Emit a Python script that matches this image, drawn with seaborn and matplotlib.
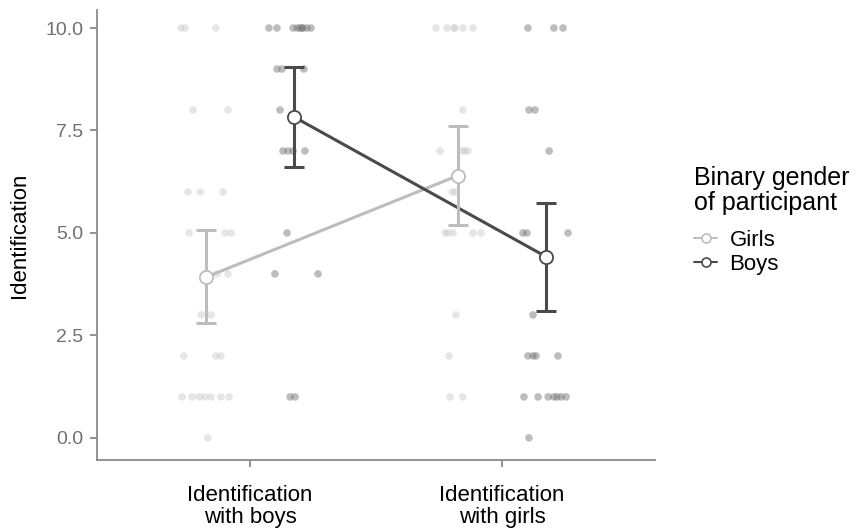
import numpy as np
import pandas as pd
import matplotlib
matplotlib.use("Agg")
import matplotlib.pyplot as plt
import seaborn as sns
from matplotlib.lines import Line2D

# ---------------- data ----------------
conditions = ["Identification\nwith boys", "Identification\nwith girls"]
genders = ["Girls", "Boys"]

# summary (mean and error-bar limits) per gender, per condition
girls_mean = [3.92, 6.40]
girls_low = [2.80, 5.20]
girls_high = [5.07, 7.62]
boys_mean = [7.83, 4.42]
boys_low = [6.60, 3.10]
boys_high = [9.05, 5.73]

# raw responses with their observed horizontal jitter offset (data units)
girls_boys_y = [10, 10, 10, 8, 8, 6, 6, 6, 5, 5, 5, 4, 4, 3, 3, 2, 2, 2,
                1, 1, 1, 1, 1, 1, 1, 0]
girls_boys_j = [-0.274, -0.258, -0.135, -0.226, -0.087, -0.246, -0.198, -0.107,
                -0.242, -0.099, -0.075, -0.131, -0.087, -0.194, -0.155,
                -0.262, -0.135, -0.115, -0.270, -0.230, -0.202, -0.179,
                -0.155, -0.115, -0.083, -0.167]
boys_boys_y = [10, 10, 10, 10, 10, 10, 10, 10, 10, 9, 9, 9, 8, 7, 7, 7, 7,
               5, 4, 4, 1, 1]
boys_boys_j = [0.075, 0.107, 0.171, 0.187, 0.198, 0.206, 0.210, 0.226, 0.242,
               0.107, 0.127, 0.214, 0.119, 0.131, 0.151, 0.171, 0.218,
               0.147, 0.099, 0.270, 0.159, 0.179]
girls_girls_y = [10, 10, 10, 10, 10, 10, 8, 7, 7, 7, 7, 6, 6, 5, 5, 5, 5, 5,
                 3, 2, 1, 1]
girls_girls_j = [-0.262, -0.218, -0.190, -0.187, -0.155, -0.115, -0.155,
                 -0.246, -0.159, -0.147, -0.135, -0.198, -0.187, -0.226,
                 -0.214, -0.194, -0.115, -0.083, -0.183, -0.210, -0.206,
                 -0.155]
boys_girls_y = [10, 10, 10, 8, 8, 7, 5, 5, 5, 3, 2, 2, 2, 2, 1, 1, 1, 1, 1,
                1, 1, 0]
boys_girls_j = [0.103, 0.206, 0.242, 0.107, 0.131, 0.187, 0.083, 0.099, 0.262,
                0.123, 0.103, 0.123, 0.135, 0.222, 0.087, 0.143, 0.183,
                0.206, 0.218, 0.234, 0.254, 0.107]

y_ticks = [0.0, 2.5, 5.0, 7.5, 10.0]

# ---------------- build tables ----------------
rows = []
for cond_i, gender, ys, js in [
    (0, "Girls", girls_boys_y, girls_boys_j),
    (0, "Boys", boys_boys_y, boys_boys_j),
    (1, "Girls", girls_girls_y, girls_girls_j),
    (1, "Boys", boys_girls_y, boys_girls_j),
]:
    for y, j in zip(ys, js):
        rows.append({"x": cond_i + j, "y": y, "gender": gender})
pts = pd.DataFrame(rows)

summ = pd.DataFrame({
    "cond": [0, 1, 0, 1],
    "gender": ["Girls", "Girls", "Boys", "Boys"],
    "mean": girls_mean + boys_mean,
    "low": girls_low + boys_low,
    "high": girls_high + boys_high,
})
dodge = {"Girls": -0.175, "Boys": 0.175}
summ["x"] = summ["cond"] + summ["gender"].map(dodge)

line_col = {"Girls": "#bdbdbd", "Boys": "#4a4a4a"}
pt_col = {"Girls": "#c8c8c8", "Boys": "#6e6e6e"}

# ---------------- plot ----------------
sns.set_style("white")
plt.rcParams["font.family"] = ["Liberation Sans", "DejaVu Sans"]

fig = plt.figure(figsize=(8.57, 5.30), dpi=100)
ax = fig.add_axes([97 / 857, 1 - 460 / 530, (655 - 97) / 857, (460 - 10) / 530])

sns.scatterplot(data=pts, x="x", y="y", hue="gender", palette=pt_col,
                alpha=0.45, s=30, edgecolor="none", legend=False, ax=ax,
                zorder=1)

for g in genders:
    d = summ[summ["gender"] == g].sort_values("cond")
    ax.plot(d["x"], d["mean"], color=line_col[g], lw=2.2, zorder=2)
    ax.errorbar(d["x"], d["mean"],
                yerr=[d["mean"] - d["low"], d["high"] - d["mean"]],
                fmt="none", ecolor=line_col[g], elinewidth=2.2,
                capsize=7, capthick=2.2, zorder=3)
    ax.plot(d["x"], d["mean"], "o", ms=9.5, mfc="white",
            mec=line_col[g], mew=1.3, zorder=4)

ax.set_xlim(-0.607, 1.607)
ax.set_ylim(-0.54, 10.44)
ax.set_xticks([0, 1])
ax.set_xticklabels(conditions, fontsize=16, color="black", linespacing=1.04)
ax.set_yticks(y_ticks)
ax.set_yticklabels([f"{t:.1f}" for t in y_ticks], fontsize=14, color="#707070")
ax.set_xlabel("")
ax.set_ylabel("Identification", fontsize=16, color="black", labelpad=11)

for side in ["top", "right"]:
    ax.spines[side].set_visible(False)
for side in ["left", "bottom"]:
    ax.spines[side].set_color("#8a8a8a")
    ax.spines[side].set_linewidth(1.3)
ax.tick_params(axis="both", length=5, width=1.3, color="#8a8a8a", direction="out",
               left=True, bottom=True)
ax.tick_params(axis="x", pad=13)
ax.tick_params(axis="y", pad=5)

handles = [Line2D([0], [0], color=line_col[g], lw=1.5, marker="o", ms=6.5,
                  mfc="white", mec=line_col[g], mew=1.2) for g in genders]
leg = fig.legend(handles, genders, title="Binary gender\nof participant",
                 loc="upper left", bbox_to_anchor=(685 / 857, 1 - 157 / 530),
                 frameon=False, fontsize=16, title_fontsize=18,
                 handlelength=1.05, handletextpad=0.55, labelspacing=0.12,
                 borderaxespad=0, labelcolor="black")
leg._legend_box.align = "left"
leg._legend_box.sep = 11
leg.get_title().set_linespacing(1.05)
leg.get_title().set_color("black")

fig.savefig("out.png", dpi=100)
